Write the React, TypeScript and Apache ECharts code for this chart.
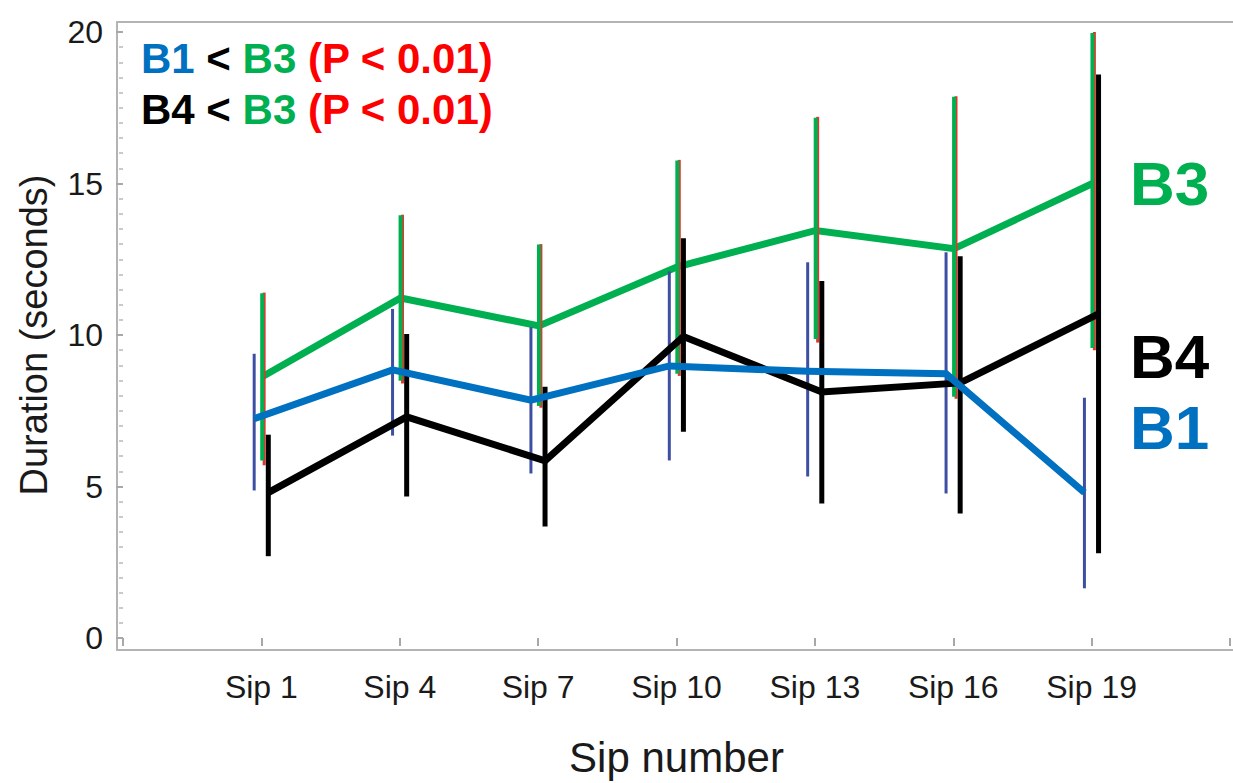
import React, { useEffect, useRef } from "react";
import * as echarts from "echarts";

const categories = ["Sip 1", "Sip 4", "Sip 7", "Sip 10", "Sip 13", "Sip 16", "Sip 19"];

const b1Mean = [7.24, 8.85, 7.85, 8.98, 8.8, 8.72, 4.8];
const b1Low = [4.87, 6.68, 5.43, 5.86, 5.33, 4.77, 1.64];
const b1High = [9.38, 10.86, 10.26, 12.1, 12.4, 12.73, 7.93];

const b3Mean = [8.62, 11.22, 10.3, 12.25, 13.45, 12.85, 15.0];
const b3Low = [5.86, 8.49, 7.66, 8.72, 9.87, 7.96, 9.57];
const b3High = [11.38, 13.95, 12.99, 15.76, 17.17, 17.86, 19.97];

const b2Low = [5.7, 8.4, 7.6, 8.65, 9.75, 7.9, 9.5];
const b2High = [11.4, 13.97, 13.0, 15.78, 17.2, 17.88, 20.0];

const b4Mean = [4.8, 7.3, 5.85, 9.95, 8.12, 8.42, 10.7];
const b4Low = [2.7, 4.67, 3.68, 6.81, 4.44, 4.11, 2.8];
const b4High = [6.71, 10.03, 8.29, 13.19, 11.78, 12.6, 18.6];

const GREEN = "#00b050";
const BLUE = "#0070c0";
const BLACK = "#000000";
const NAVY = "#3d4fa3";
const RED = "#e8322a";
const TEXT = "#1a1a1a";
const FRAME = "#b4b4b4";
const FONT = "'Liberation Sans', Arial, Helvetica, sans-serif";

// horizontal dodge of each group, in category units
const DX_B1 = -0.052;
const DX_B3 = 0.006;
const DX_B2 = 0.02;
const DX_B4 = 0.05;

function errorBars(name: string, lows: number[], highs: number[], dx: number, color: string, width: number, z: number) {
  return {
    type: "custom",
    name,
    xAxisIndex: 0,
    yAxisIndex: 0,
    silent: true,
    z,
    encode: { x: 0, y: [1, 2] },
    data: lows.map((l, i) => [i + 1 + dx, l, highs[i]]),
    renderItem: (_params: any, api: any) => {
      const x = api.value(0);
      const p1 = api.coord([x, api.value(1)]);
      const p2 = api.coord([x, api.value(2)]);
      return {
        type: "line",
        shape: { x1: p1[0], y1: p1[1], x2: p2[0], y2: p2[1] },
        style: { stroke: color, lineWidth: width },
      };
    },
  };
}

function meanLine(name: string, means: number[], dx: number, color: string, z: number) {
  return {
    type: "line",
    name,
    xAxisIndex: 0,
    yAxisIndex: 0,
    z,
    silent: true,
    symbol: "none",
    data: means.map((m, i) => [i + 1 + dx, m]),
    lineStyle: { color, width: 7, join: "miter" },
  };
}

const frameAxis = (gridIndex: number, position: string) => ({
  type: "value",
  gridIndex,
  position,
  min: 0,
  max: 1,
  axisLine: { show: true, lineStyle: { color: FRAME, width: 2 } },
  axisTick: { show: false },
  axisLabel: { show: false },
  splitLine: { show: false },
});

export default function App() {
  const ref = useRef<HTMLDivElement>(null);
  useEffect(() => {
    document.body.style.margin = "0";
    const chart = echarts.init(ref.current!, null, { renderer: "svg" });
    const option: any = {
      animation: false,
      backgroundColor: "#ffffff",
      textStyle: { fontFamily: FONT },
      grid: [
        { left: 123, right: 2, top: 32, bottom: 143 },
        { left: 117, right: 0, top: 22, bottom: 133 },
      ],
      xAxis: [
        {
          type: "value",
          gridIndex: 0,
          min: 0,
          max: 8,
          interval: 1,
          offset: 10,
          axisLine: { show: false },
          axisTick: { show: true, length: 8, lineStyle: { color: "#a8a8a8", width: 2 } },
          axisLabel: {
            formatter: (v: number) => categories[v - 1] ?? "",
            fontSize: 32,
            color: TEXT,
            margin: 23,
            fontFamily: FONT,
          },
          splitLine: { show: false },
          name: "Sip number",
          nameLocation: "middle",
          nameGap: 88,
          nameTextStyle: { fontSize: 42, color: TEXT, fontFamily: FONT },
        },
        frameAxis(1, "bottom"),
        frameAxis(1, "top"),
      ],
      yAxis: [
        {
          type: "value",
          gridIndex: 0,
          min: 0,
          max: 20,
          interval: 5,
          offset: 6,
          axisLine: { show: false },
          axisTick: { show: true, length: 7, lineStyle: { color: "#a8a8a8", width: 2 } },
          minorTick: { show: true, splitNumber: 10, length: 4, lineStyle: { color: "#b8b8b8", width: 1.5 } },
          splitLine: { show: false },
          minorSplitLine: { show: false },
          axisLabel: { fontSize: 32, color: TEXT, margin: 14, fontFamily: FONT },
          name: "Duration (seconds)",
          nameLocation: "middle",
          nameGap: 64,
          nameTextStyle: { fontSize: 38, color: TEXT, fontFamily: FONT },
        },
        frameAxis(1, "left"),
      ],
      series: [
        meanLine("B3", b3Mean, DX_B3, GREEN, 2),
        errorBars("B1 range", b1Low, b1High, DX_B1, NAVY, 3, 3),
        errorBars("B2 range", b2Low, b2High, DX_B2, RED, 3, 3),
        errorBars("B3 range", b3Low, b3High, DX_B3, GREEN, 4, 3),
        errorBars("B4 range", b4Low, b4High, DX_B4, BLACK, 5, 3),
        meanLine("B4", b4Mean, DX_B4, BLACK, 4),
        meanLine("B1", b1Mean, DX_B1, BLUE, 5),
      ],
      graphic: [
        {
          type: "text",
          x: 141,
          y: 58,
          style: {
            text: "{b|B1} {k|<} {g|B3} {r|(P < 0.01)}",
            verticalAlign: "middle",
            rich: {
              b: { fill: BLUE, fontSize: 42, fontWeight: "bold", fontFamily: FONT },
              k: { fill: BLACK, fontSize: 42, fontWeight: "bold", fontFamily: FONT },
              g: { fill: GREEN, fontSize: 42, fontWeight: "bold", fontFamily: FONT },
              r: { fill: "#ff0000", fontSize: 42, fontWeight: "bold", fontFamily: FONT },
            },
            font: `bold 42px ${FONT}`,
          },
        },
        {
          type: "text",
          x: 141,
          y: 109,
          style: {
            text: "{k|B4} {k|<} {g|B3} {r|(P < 0.01)}",
            verticalAlign: "middle",
            rich: {
              k: { fill: BLACK, fontSize: 42, fontWeight: "bold", fontFamily: FONT },
              g: { fill: GREEN, fontSize: 42, fontWeight: "bold", fontFamily: FONT },
              r: { fill: "#ff0000", fontSize: 42, fontWeight: "bold", fontFamily: FONT },
            },
            font: `bold 42px ${FONT}`,
          },
        },
        { type: "text", x: 1130, y: 183, style: { text: "B3", fill: GREEN, font: `bold 62px ${FONT}`, verticalAlign: "middle" } },
        { type: "text", x: 1130, y: 356, style: { text: "B4", fill: BLACK, font: `bold 62px ${FONT}`, verticalAlign: "middle" } },
        { type: "text", x: 1130, y: 427, style: { text: "B1", fill: BLUE, font: `bold 62px ${FONT}`, verticalAlign: "middle" } },
      ],
    };
    chart.setOption(option);
    return () => chart.dispose();
  }, []);
  return <div ref={ref} style={{ width: 1233, height: 783 }} />;
}
